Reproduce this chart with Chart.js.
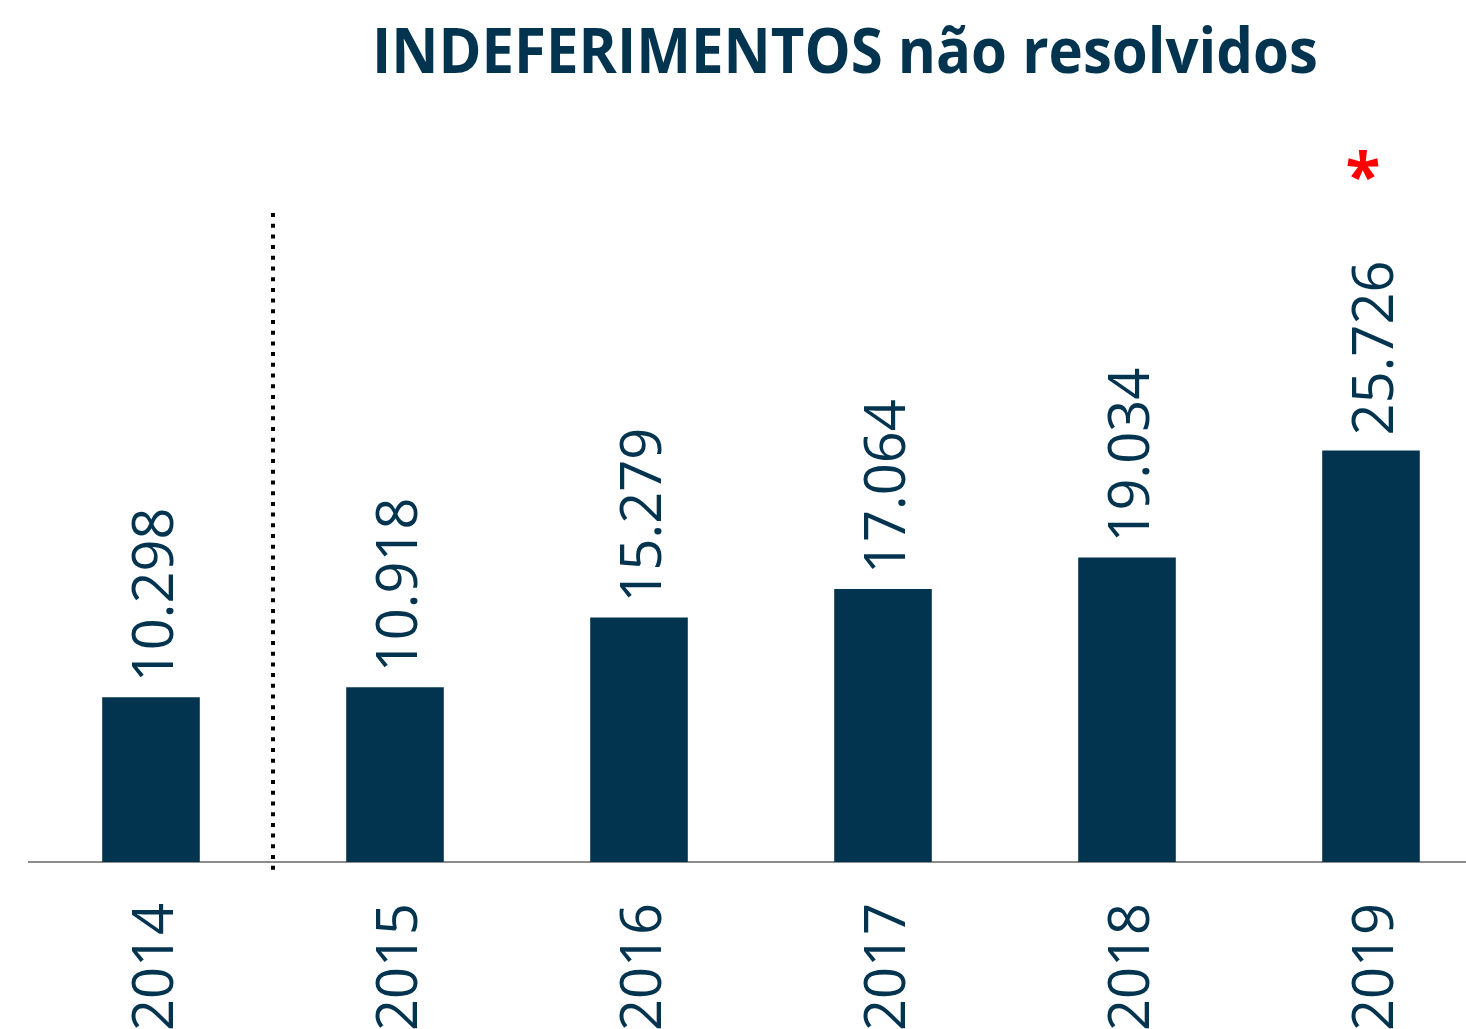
<!DOCTYPE html>
<html>
<head>
<meta charset="utf-8">
<script src="https://cdn.jsdelivr.net/npm/chart.js@4"></script>
<style>
  html, body { margin: 0; padding: 0; background: #fff; overflow: hidden; }
  #wrap { width: 1466px; height: 1029px; overflow: hidden; position: relative; }
  canvas { position: absolute; left: 0; top: 0; }
</style>
</head>
<body>
<div id="wrap"><canvas id="chart" width="1500" height="1029"></canvas></div>
<script>
// data
const years = ['2014', '2015', '2016', '2017', '2018', '2019'];
const pending = [10298, 10918, 15279, 17064, 19034, 25726];
const flagged = ['2019']; // red asterisk

const navy = '#02344f';

function fmt(v) {
    // 10298 -> "10.298"
    return String(v).replace(/\B(?=(\d{3})+(?!\d))/g, '.');
}

const decorations = {
    id: 'decorations',
    afterDatasetsDraw(chart) {
        const ctx = chart.ctx;
        const x = chart.scales.x;
        const meta = chart.getDatasetMeta(0);

        // title
        ctx.save();
        ctx.fillStyle = navy;
        ctx.font = 'bold 62px "Open Sans"';
        ctx.textBaseline = 'alphabetic';
        const title = 'INDEFERIMENTOS não resolvidos';
        const w = ctx.measureText(title).width;
        const target = 946;
        ctx.translate(372, 73);
        ctx.scale(target / w, 1);
        ctx.fillText(title, 0, 0);
        ctx.restore();

        // value labels above bars, rotated
        ctx.save();
        ctx.fillStyle = navy;
        ctx.font = '56px "Open Sans"';
        ctx.textAlign = 'left';
        ctx.textBaseline = 'alphabetic';
        meta.data.forEach((bar, i) => {
            ctx.save();
            ctx.translate(bar.x + 22, bar.y - 15);
            ctx.rotate(-Math.PI / 2);
            ctx.fillText(fmt(pending[i]), 0, 0);
            ctx.restore();
        });
        ctx.restore();

        // year labels under the axis, rotated
        ctx.save();
        ctx.fillStyle = navy;
        ctx.font = '56px "Open Sans"';
        ctx.textAlign = 'right';
        ctx.textBaseline = 'alphabetic';
        years.forEach((y, i) => {
            const px = x.getPixelForValue(i);
            ctx.save();
            ctx.translate(px + 22, 903);
            ctx.rotate(-Math.PI / 2);
            ctx.fillText(y, 0, 0);
            ctx.restore();
        });
        ctx.restore();

        // dotted separator between 2014 and 2015
        ctx.save();
        const sx = Math.round((x.getPixelForValue(0) + x.getPixelForValue(1)) / 2);
        ctx.strokeStyle = '#000';
        ctx.lineWidth = 4;
        ctx.setLineDash([4, 6.7]);
        ctx.beginPath();
        ctx.moveTo(sx, 213);
        ctx.lineTo(sx, 870);
        ctx.stroke();
        ctx.restore();

        // red asterisk
        ctx.save();
        ctx.fillStyle = '#ff0000';
        ctx.font = 'bold 64px "Open Sans"';
        ctx.textAlign = 'center';
        ctx.textBaseline = 'alphabetic';
        flagged.forEach(f => {
            const i = years.indexOf(f);
            ctx.fillText('*', meta.data[i].x - 8, 199);
        });
        ctx.restore();
    }
};

new Chart(document.getElementById('chart'), {
    type: 'bar',
    data: {
        labels: years,
        datasets: [{
            data: pending,
            backgroundColor: navy,
            barPercentage: 0.4,
            categoryPercentage: 1.0
        }]
    },
    options: {
        responsive: false,
        animation: false,
        devicePixelRatio: 1,
        layout: { padding: { left: 29, right: 7, top: 382, bottom: 159 } },
        plugins: { legend: { display: false }, tooltip: { enabled: false } },
        scales: {
            x: {
                grid: { display: false },
                ticks: { display: false },
                border: { display: true, color: '#8c8c8c', width: 2 }
            },
            y: {
                display: false,
                min: 0,
                max: 30000
            }
        }
    },
    plugins: [decorations]
});
</script>
</body>
</html>
